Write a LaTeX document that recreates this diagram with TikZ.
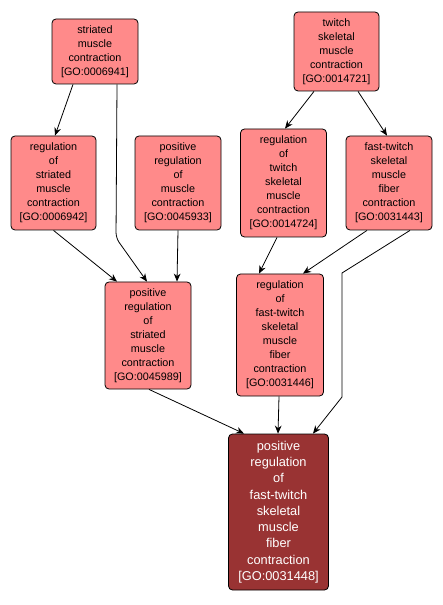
\documentclass[tikz,border=0pt]{standalone}
\usepackage{fontspec}
\setmainfont{Liberation Sans}
\usetikzlibrary{arrows.meta}
\definecolor{termpink}{HTML}{FF8A8A}
\definecolor{termred}{HTML}{993333}
\newcommand{\goterm}[1]{[GO:#1]}
\tikzset{
  term/.style={draw=black, line width=0.6pt, fill=termpink, rounded corners=3pt, align=center,
    font=\fontsize{8.1}{10.5}\selectfont, inner sep=1pt, minimum width=64.5pt},
  hit/.style={term, fill=termred, text=white, font=\fontsize{9.6}{12.2}\selectfont, minimum width=75pt},
  isa/.style={->, line width=0.6pt}
}
\begin{document}
\begin{tikzpicture}[x=0.75pt, y=-0.75pt, >={Stealth[length=6pt,width=5pt]}]
				\useasboundingbox (0,0) rectangle (442,605);
				
				% Oberste Ebene
				\node[term, minimum height=48.75pt] (smc) at (95,51.5) {striated\\muscle\\contraction\\\goterm{0006941}};
				\node[term, minimum height=59.25pt, minimum width=63.75pt] (tsmc) at (336.5,51.5) {twitch\\skeletal\\muscle\\contraction\\\goterm{0014721}};
				
				% Zweite Ebene
				\node[term, minimum height=70.5pt, minimum width=63.75pt] (rsmc) at (53.5,183) {regulation\\of\\striated\\muscle\\contraction\\\goterm{0006942}};
				\node[term, minimum height=70.5pt] (prmc) at (178,183) {positive\\regulation\\of\\muscle\\contraction\\\goterm{0045933}};
				\node[term, minimum height=81pt] (rtsmc) at (283.5,183) {regulation\\of\\twitch\\skeletal\\muscle\\contraction\\\goterm{0014724}};
				\node[term, minimum height=70.5pt] (ftsmfc) at (389,183) {fast-twitch\\skeletal\\muscle\\fiber\\contraction\\\goterm{0031443}};
				
				% Dritte Ebene
				\node[term, minimum height=80.25pt] (prsmc) at (148,335.5) {positive\\regulation\\of\\striated\\muscle\\contraction\\\goterm{0045989}};
				\node[term, minimum height=91.5pt, minimum width=65.25pt] (rftsmfc) at (280,335) {regulation\\of\\fast-twitch\\skeletal\\muscle\\fiber\\contraction\\\goterm{0031446}};
				
				% Gesuchter Term
				\node[hit, minimum height=117pt] (prftsmfc) at (278.5,512) {positive\\regulation\\of\\fast-twitch\\skeletal\\muscle\\fiber\\contraction\\\goterm{0031448}};
				
				% Kanten
				\draw[isa] ([shift={(-22,0)}]smc.south) -- ([shift={(1.5,0)}]rsmc.north);
				\draw[isa, rounded corners=4pt] ([shift={(22,0)}]smc.south) -- (116,238) -- ([shift={(-1,0)}]prsmc.north);
				\draw[isa] (rsmc.south) -- ([shift={(-31,0)}]prsmc.north);
				\draw[isa] (prmc.south) -- ([shift={(29,0)}]prsmc.north);
				\draw[isa] ([shift={(-22.5,0)}]tsmc.south) -- ([shift={(1.5,0)}]rtsmc.north);
				\draw[isa] ([shift={(21.5,0)}]tsmc.south) -- ([shift={(-2,0)}]ftsmfc.north);
				\draw[isa] ([shift={(-6.5,0)}]rtsmc.south) -- ([shift={(-21,0)}]rftsmfc.north);
				\draw[isa] ([shift={(-22,0)}]ftsmfc.south) -- ([shift={(23,0)}]rftsmfc.north);
				\draw[isa] ([shift={(21,0)}]ftsmfc.south) -- (342,273) -- (342,397) -- ([shift={(34.5,0)}]prftsmfc.north);
				\draw[isa] ([shift={(1,0)}]prsmc.south) -- ([shift={(-34.5,0)}]prftsmfc.north);
				\draw[isa] ([shift={(-1,0)}]rftsmfc.south) -- ([shift={(-0.5,0)}]prftsmfc.north);
			\end{tikzpicture}
\end{document}
